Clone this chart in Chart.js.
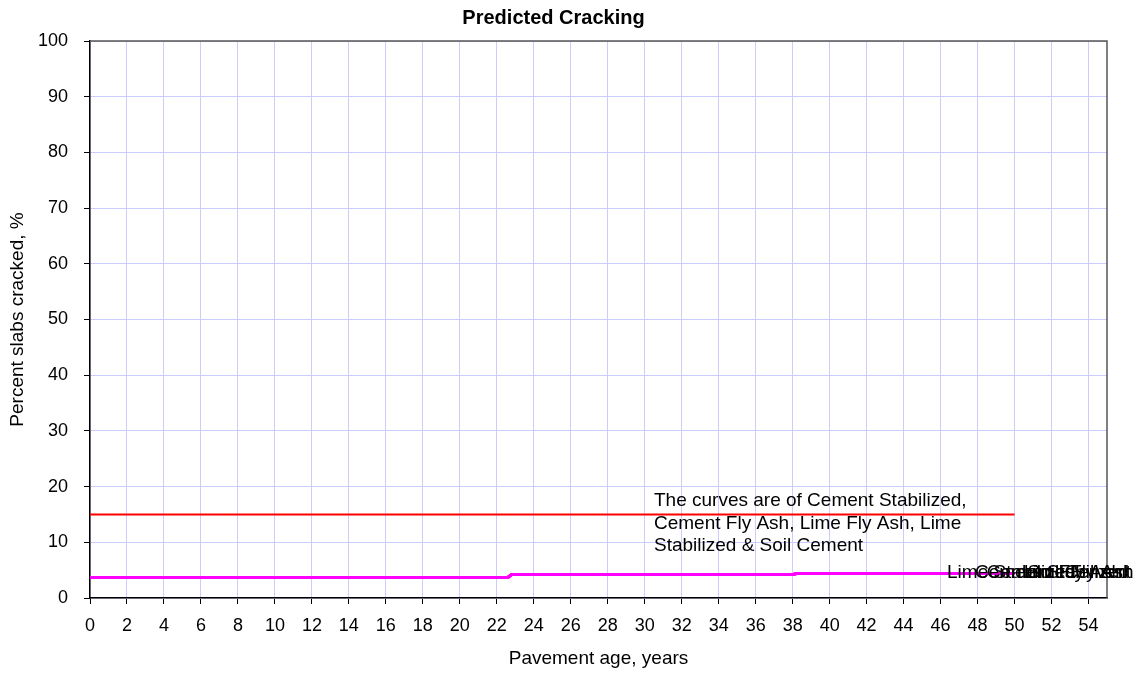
<!DOCTYPE html>
<html lang="en">
<head>
    <meta charset="UTF-8">
    <title>Predicted Cracking</title>
    <script src="https://cdn.jsdelivr.net/npm/chart.js"></script>
    <style>
        html, body { margin: 0; padding: 0; background: white; }
        #wrap { width: 1135px; height: 673px; }
    </style>
</head>
<body>
    <div id="wrap"><canvas id="crackChart"></canvas></div>

    <script>
        // pavement age (years) and percent slabs cracked
        const ageYears = [0, 22.6, 22.8, 38.0, 38.2, 50];
        const cementStabilized = [3.7, 3.7, 4.2, 4.2, 4.4, 4.4];
        const cementFlyAsh     = [3.7, 3.7, 4.2, 4.2, 4.4, 4.4];
        const limeFlyAsh       = [3.7, 3.7, 4.2, 4.2, 4.4, 4.4];
        const limeStabilized   = [3.7, 3.7, 4.2, 4.2, 4.4, 4.4];
        const soilCement       = [3.7, 3.7, 4.2, 4.2, 4.4, 4.4];

        const limitAge = [0, 50];
        const limitValue = [15, 15];

        const seriesNames = ["Cement Stabilized", "Cement Fly Ash", "Lime Fly Ash", "Lime Stabilized", "Soil Cement"];
        const seriesValues = [cementStabilized, cementFlyAsh, limeFlyAsh, limeStabilized, soilCement];
        // where the end labels sit (x in years)
        const labelAge = [47.86, 48.5, 50.5, 46.35, 50.7];

        const noteLines = ["The curves are of Cement Stabilized,", "Cement Fly Ash, Lime Fly Ash, Lime", "Stabilized & Soil Cement"];

        function pts(xs, ys) {
            return xs.map((x, i) => ({ x: x, y: ys[i] }));
        }

        let datasets = [{
            label: "Limit",
            data: pts(limitAge, limitValue),
            borderColor: "#ff0000",
            borderWidth: 2,
            pointRadius: 0,
            tension: 0
        }];
        seriesNames.forEach((name, i) => {
            datasets.push({
                label: name,
                data: pts(ageYears, seriesValues[i]),
                borderColor: "#ff00ff",
                borderWidth: 3,
                pointRadius: 0,
                tension: 0
            });
        });

        const family = "'Liberation Sans', Arial, sans-serif";

        // frame, note text and the overlapping end labels
        const extras = {
            id: 'extras',
            afterDatasetsDraw(chart) {
                const ctx = chart.ctx;
                const a = chart.chartArea;
                const xs = chart.scales.x, ys = chart.scales.y;
                ctx.save();
                ctx.strokeStyle = "#555";
                ctx.lineWidth = 1.5;
                ctx.beginPath();
                ctx.moveTo(a.left, a.top);
                ctx.lineTo(a.right, a.top);
                ctx.lineTo(a.right, a.bottom);
                ctx.stroke();

                ctx.fillStyle = "#000";
                ctx.font = "19px " + family;
                ctx.textBaseline = "middle";
                ctx.textAlign = "left";
                noteLines.forEach((t, i) => {
                    ctx.fillText(t, 654, 501 + i * 22.5);
                });

                seriesNames.forEach((name, i) => {
                    const v = seriesValues[i];
                    ctx.fillText(name, xs.getPixelForValue(labelAge[i]), ys.getPixelForValue(v[v.length - 1]) - 1);
                });
                ctx.restore();
            }
        };

        const tickFont = { family: family, size: 18 };
        const titleFont = { family: family, size: 19 };

        new Chart(document.getElementById('crackChart'), {
            type: 'line',
            data: { datasets: datasets },
            options: {
                responsive: true,
                maintainAspectRatio: false,
                animation: false,
                layout: { padding: { left: 0, right: 28, top: 0, bottom: 0 } },
                plugins: {
                    legend: { display: false },
                    tooltip: { enabled: false },
                    title: {
                        display: true,
                        text: "Predicted Cracking",
                        color: "#000",
                        font: { family: family, size: 20, weight: 'bold' },
                        padding: { top: 6, bottom: 11 }
                    }
                },
                scales: {
                    x: {
                        type: 'linear',
                        min: 0,
                        max: 55,
                        afterFit(scale) { scale.height = 75; },
                        ticks: { stepSize: 2, includeBounds: false, color: "#000", font: tickFont, padding: 11, maxRotation: 0, autoSkip: false },
                        grid: { color: "#ccccff", tickColor: "#000", tickLength: 6, lineWidth: 1 },
                        border: { color: "#000", width: 1.5 },
                        title: { display: true, text: "Pavement age, years", color: "#000", font: titleFont, padding: { top: 4, bottom: 3 } }
                    },
                    y: {
                        min: 0,
                        max: 100,
                        afterFit(scale) { scale.width = 90; },
                        ticks: { stepSize: 10, color: "#000", font: tickFont, padding: 16 },
                        grid: { color: "#ccccff", tickColor: "#000", tickLength: 6, lineWidth: 1 },
                        border: { color: "#000", width: 1.5 },
                        title: { display: true, text: "Percent slabs cracked, %", color: "#000", font: titleFont, padding: { top: 6, bottom: 0 } }
                    }
                }
            },
            plugins: [extras]
        });
    </script>
</body>
</html>
